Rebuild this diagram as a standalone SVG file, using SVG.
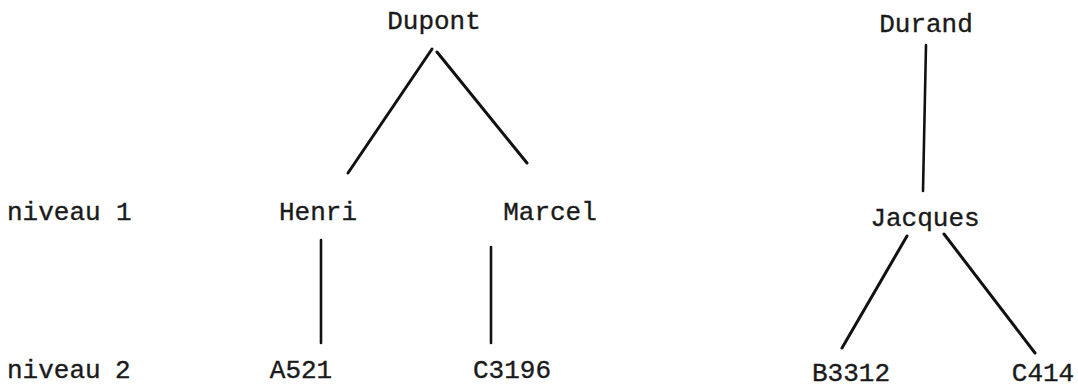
<svg xmlns="http://www.w3.org/2000/svg" width="1078" height="387" viewBox="0 0 1078 387">
<style>
text{font-family:"Liberation Mono","Courier New",monospace;font-size:26px;fill:#1a1a1a;stroke:#1a1a1a;stroke-width:0.35;}
.e{stroke:#111;stroke-width:3;stroke-linecap:round;fill:none;}
.v{stroke-width:2.6;}
</style>
<rect width="1078" height="387" fill="#fff"/>
<g id="labels">
<text x="7" y="220">niveau</text><text x="116" y="220">1</text>
<text x="7" y="378">niveau</text><text x="115" y="378">2</text>
</g>
<g id="node-dupont"><text x="434" y="29" text-anchor="middle">Dupont</text></g>
<g id="node-durand"><text x="926" y="32" text-anchor="middle">Durand</text></g>
<g id="node-henri"><text x="318" y="220" text-anchor="middle">Henri</text></g>
<g id="node-marcel"><text x="550" y="220" text-anchor="middle">Marcel</text></g>
<g id="node-jacques"><text x="925" y="226" text-anchor="middle">Jacques</text></g>
<g id="node-a521"><text x="301" y="378" text-anchor="middle">A521</text></g>
<g id="node-c3196"><text x="512" y="378" text-anchor="middle">C3196</text></g>
<g id="node-b3312"><text x="851" y="381" text-anchor="middle">B3312</text></g>
<g id="node-c414"><text x="1043" y="381" text-anchor="middle">C414</text></g>
<g id="connectors">
<line class="e" x1="432" y1="49" x2="348" y2="173"/>
<line class="e" x1="437" y1="52" x2="527" y2="163"/>
<line class="e v" x1="926" y1="45" x2="923" y2="191"/>
<line class="e v" x1="321" y1="240" x2="321" y2="343"/>
<line class="e v" x1="491" y1="247" x2="491" y2="343"/>
<line class="e" x1="907" y1="236" x2="842" y2="348"/>
<line class="e" x1="944" y1="234" x2="1035" y2="353"/>
</g>
</svg>
